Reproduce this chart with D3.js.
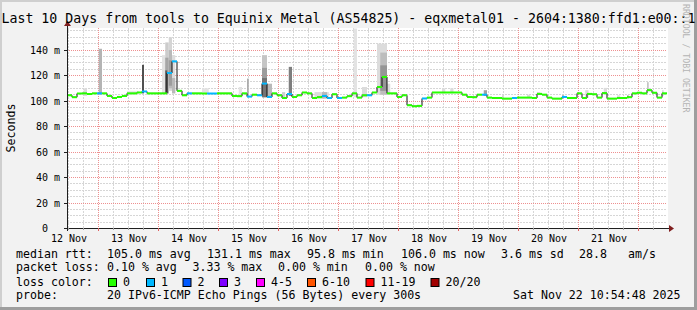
<!DOCTYPE html>
<html>
<head>
<meta charset="utf-8">
<script src="https://cdn.jsdelivr.net/npm/d3@7"></script>
<style>
  html, body { margin: 0; padding: 0; background: #f2f2f2; }
  svg { display: block; font-family: "DejaVu Sans Mono", monospace; }
  text { white-space: pre; }
</style>
</head>
<body>
<svg id="chart" width="697" height="310"></svg>
<script>
// ---- data ----
const startTime = Date.UTC(2025, 10, 12, 11, 24);
const stepHours = 2;

// median rtt (ms), one value per 2 hours
const medianMs = [
  104.5, 103, 105.9, 106, 105.5, 106, 106, 106, 104, 102.4,
  103.2, 104, 106, 106, 106.7, 107.5, 106, 106, 106, 106,
  122, 131.1, 108, 104.5, 106, 106, 106, 105.9, 105.9, 105.9,
  106, 106, 106, 104, 103.8, 106, 103.5, 105, 104.5, 113.7,
  103.2, 106, 104.5, 102.4, 105.5, 103.2, 104.5, 106.7, 106, 102.4,
  103, 104, 102.4, 105.3, 102.4, 102.7, 103.8, 106, 102.7, 104.5,
  104.5, 106.7, 111, 118.9, 106, 106, 103.2, 104.5, 96.7, 95.9,
  96.2, 102, 102.7, 106.7, 106.7, 106.7, 106.7, 106.7, 106.7, 105,
  103.2, 103, 105, 105, 102.7, 102.4, 102.4, 101.9, 101.9, 102.4,
  102.7, 102.7, 102.7, 102.4, 105.6, 105, 102.7, 101.9, 101.9, 103.2,
  102.4, 102.4, 106, 102.4, 105.6, 105.3, 102.7, 106.2, 101.9, 101.9,
  102.4, 102.4, 103, 106, 106.5, 106, 108.5, 106.5, 102.7, 106
];

// lost pings (of 20) per step
const lossCount = [
  0, 0, 0, 0, 0, 0, 1, 0, 0, 0, 0, 0, 0, 0, 0, 1, 0, 0, 0, 0,
  1, 1, 0, 0, 1, 0, 0, 0, 1, 1, 0, 0, 0, 0, 0, 0, 1, 0, 1, 1,
  1, 0, 0, 0, 1, 0, 0, 0, 0, 0, 0, 1, 1, 0, 1, 0, 0, 0, 0, 0,
  1, 0, 0, 0, 0, 0, 0, 0, 0, 0, 0, 1, 0, 0, 0, 0, 0, 0, 0, 0,
  0, 0, 0, 1, 0, 0, 0, 0, 0, 1, 0, 0, 0, 0, 0, 0, 0, 0, 0, 1,
  0, 0, 0, 0, 0, 0, 0, 0, 0, 0, 0, 0, 0, 0, 0, 0, 0, 0, 0, 0
];

// smoke (ping spread): start hour, length in hours, low ms, high ms, density
const smokeHour    = [6.7, 12.7, 24, 30, 38, 39.3, 39.3, 39.3, 40.7, 40.7, 40.7, 42, 42, 54, 68.7, 72, 78, 78, 78, 80, 86, 88.7, 99, 102, 114.7, 118, 124, 125.3, 125.3, 128, 150, 153.3, 166.7, 174, 184, 188, 198, 207.3, 214.7, 220, 224, 232, 238];
const smokeSpan    = [1.3, 1.3, 4.7, 0.8, 1.3, 1.4, 1.4, 0.8, 1.3, 1.3, 1.3, 1.3, 1.3, 2.7, 1.3, 0.7, 2, 2, 2, 2, 1.3, 1.3, 5.7, 2, 1.3, 2, 4, 2.7, 2.7, 1.3, 1.3, 1.3, 1.3, 0.7, 1.3, 1.3, 0.7, 1.3, 1.3, 1.3, 0.7, 0.7, 0.7];
const smokeLow     = [104, 105, 105, 106, 106, 106, 106, 106, 108, 110, 112, 106, 106, 105.5, 104, 104, 103, 103, 103, 103, 102, 104, 102, 102, 103, 103, 105, 105, 108, 105, 106, 106, 104, 101.5, 102.5, 105, 102, 102.4, 105, 101.5, 102, 108, 104];
const smokeHigh    = [110, 141, 108, 128.4, 136, 146, 134, 124, 150, 140, 132, 136, 118, 110, 111, 117.6, 136, 126, 118, 113.6, 107, 126.8, 107, 107, 157, 111, 145, 138, 128, 113.6, 110, 110, 108.5, 104.5, 105, 107, 104.5, 108.5, 110.3, 104.5, 104.5, 114.8, 108.5];
const smokeDensity = [0.15, 0.32, 0.1, 0.75, 0.12, 0.22, 0.38, 0.7, 0.18, 0.3, 0.42, 0.15, 0.3, 0.12, 0.12, 0.35, 0.25, 0.42, 0.6, 0.3, 0.2, 0.55, 0.15, 0.3, 0.12, 0.15, 0.15, 0.28, 0.45, 0.15, 0.15, 0.15, 0.4, 0.2, 0.15, 0.15, 0.4, 0.15, 0.15, 0.15, 0.35, 0.25, 0.15];

const lossLabels = ["0", "1", "2", "3", "4-5", "6-10", "11-19", "20/20"];
const lossColors = ["#26ff00", "#00b8ff", "#0059ff", "#7e00ff", "#ff00ff", "#ff5500", "#ff0000", "#a10000"];
const lossLimits = [0, 1, 2, 3, 5, 10, 19, 20];

const titleText = "Last 10 Days from tools to Equinix Metal (AS54825) - eqxmetal01 - 2604:1380:ffd1:e00::1";
const rttStats = ["105.0 ms avg", "131.1 ms max", "95.8 ms min", "106.0 ms now", "3.6 ms sd", "28.8", "am/s"];
const lossStats = ["0.10 % avg", "3.33 % max", "0.00 % min", "0.00 % now"];
const probeText = "20 IPv6-ICMP Echo Pings (56 Bytes) every 300s";
const stampText = "Sat Nov 22 10:54:48 2025";

// ---- layout ----
const W = 697, H = 310;
const plotLeft = 67, plotRight = 667, plotTop = 28, plotBottom = 228;
const rttCols = [107, 207, 307, 401, 501, 579, 628];
const lossCols = [107, 192.5, 278, 365];
const boxCols = [108, 146, 182.5, 219, 256, 307, 365.5, 430.5];

const svg = d3.select("#chart");

const endTime = startTime + 10 * 864e5;
const x = d3.scaleUtc().domain([startTime, endTime]).range([plotLeft, plotRight]);
const y = d3.scaleLinear().domain([0, 156.9]).range([plotBottom + 0.5, plotTop + 0.5]);

const hourTime = (h) => startTime + h * 36e5;
const lossColour = (n) => lossColors[lossLimits.findIndex((l) => n <= l)];
const smokeColour = d3.scaleLinear().domain([0, 1]).range(["#ffffff", "#151515"]);

// background, shading, canvas
svg.append("rect").attr("width", W).attr("height", H).attr("fill", "#f2f2f2");
svg.append("rect").attr("width", W).attr("height", 2).attr("fill", "#cfcfcf");
svg.append("rect").attr("width", 2).attr("height", H).attr("fill", "#cfcfcf");
svg.append("rect").attr("y", H - 3).attr("width", W).attr("height", 3).attr("fill", "#9e9e9e");
svg.append("rect").attr("x", W - 3).attr("width", 3).attr("height", H).attr("fill", "#9e9e9e");
svg.append("rect")
  .attr("x", plotLeft)
  .attr("y", plotTop)
  .attr("width", plotRight - plotLeft + 1)
  .attr("height", plotBottom - plotTop)
  .attr("fill", "#fff");

// grid
const crisp = (v) => Math.round(v - 0.5) + 0.5;

const minorY = d3.range(5, 157, 5).filter((v) => v % 20 !== 0);
const majorY = d3.range(20, 157, 20);
const minorX = d3.utcHour.every(6).range(new Date(startTime), new Date(endTime))
  .filter((d) => d.getUTCHours() !== 0);
const majorX = d3.utcDay.range(new Date(startTime), new Date(endTime));
const dayLabels = d3.utcDay.range(d3.utcDay.floor(new Date(startTime)), new Date(endTime))
  .map((d) => new Date(+d + 12 * 36e5))
  .filter((d) => +d > startTime && +d < endTime);

function gridLines(cls, values, horizontal, colour, dash) {
  svg.append("g")
    .attr("class", cls)
    .selectAll("line")
    .data(values)
    .enter()
    .append("line")
    .attr("x1", (d) => (horizontal ? plotLeft : crisp(x(d))))
    .attr("x2", (d) => (horizontal ? plotRight : crisp(x(d))))
    .attr("y1", (d) => (horizontal ? crisp(y(d)) : plotTop))
    .attr("y2", (d) => (horizontal ? crisp(y(d)) : plotBottom))
    .style("stroke", colour)
    .style("stroke-width", "1px")
    .style("stroke-dasharray", dash);
}

gridLines("grid-minor-y", minorY, true, "#d6d6d6", "2 1");
gridLines("grid-minor-x", minorX, false, "#d6d6d6", "2 1");
gridLines("grid-major-y", majorY, true, "#ee9090", "1 1");
gridLines("grid-major-x", majorX, false, "#ee9090", "1 1");

// smoke
svg.append("g")
  .selectAll("rect")
  .data(smokeHour.map((h, i) => i))
  .enter()
  .append("rect")
  .attr("x", (i) => x(hourTime(smokeHour[i])))
  .attr("width", (i) => x(hourTime(smokeHour[i] + smokeSpan[i])) - x(hourTime(smokeHour[i])))
  .attr("y", (i) => y(Math.min(smokeHigh[i], 156.9)))
  .attr("height", (i) => y(smokeLow[i]) - y(Math.min(smokeHigh[i], 156.9)))
  .attr("fill", (i) => smokeColour(smokeDensity[i]));

// median line: dark step connectors, then loss coloured steps
const points = medianMs.map((v, i) => ({ t: hourTime(i * stepHours), v, loss: lossCount[i] }));
const stepLine = d3.line()
  .x((d) => x(d.t))
  .y((d) => y(d.v))
  .curve(d3.curveStepAfter);

svg.append("path")
  .datum(points.concat([{ t: hourTime(medianMs.length * stepHours), v: medianMs[medianMs.length - 1] }]))
  .attr("d", stepLine)
  .attr("fill", "none")
  .attr("stroke", "#111")
  .attr("stroke-width", 1);

svg.append("g")
  .selectAll("line")
  .data(points)
  .enter()
  .append("line")
  .attr("x1", (d) => x(d.t))
  .attr("x2", (d) => x(d.t + stepHours * 36e5))
  .attr("y1", (d) => y(d.v))
  .attr("y2", (d) => y(d.v))
  .attr("stroke", (d) => lossColour(d.loss))
  .attr("stroke-width", 2);

// axes
const axisColour = "#1f1f1f", arrowColour = "#801f1f";
const axes = svg.append("g").attr("stroke", axisColour).attr("stroke-width", 1);
axes.append("line").attr("x1", plotLeft - 3).attr("x2", plotRight + 3).attr("y1", plotBottom + 0.5).attr("y2", plotBottom + 0.5);
axes.append("line").attr("x1", plotLeft + 0.5).attr("x2", plotLeft + 0.5).attr("y1", plotBottom + 3).attr("y2", plotTop - 3);

axes.selectAll(".ty").data(majorY.concat([0])).enter().append("line")
  .attr("x1", plotLeft - 3).attr("x2", plotLeft)
  .attr("y1", (d) => crisp(y(d))).attr("y2", (d) => crisp(y(d)));
axes.selectAll(".tx").data(majorX).enter().append("line")
  .attr("x1", (d) => crisp(x(d))).attr("x2", (d) => crisp(x(d)))
  .attr("y1", plotBottom).attr("y2", plotBottom + 3)
  .attr("stroke", "#e06060");
axes.selectAll(".txm").data(minorX).enter().append("line")
  .attr("x1", (d) => crisp(x(d))).attr("x2", (d) => crisp(x(d)))
  .attr("y1", plotBottom).attr("y2", plotBottom + 2)
  .attr("stroke", "#a0a0a0");

svg.append("path")
  .attr("d", `M${plotRight + 2},${plotBottom - 3} L${plotRight + 7},${plotBottom + 0.5} L${plotRight + 2},${plotBottom + 4} Z`)
  .attr("fill", arrowColour);
svg.append("path")
  .attr("d", `M${plotLeft - 3},${plotTop - 2} L${plotLeft + 0.5},${plotTop - 7} L${plotLeft + 4},${plotTop - 2} Z`)
  .attr("fill", arrowColour);

// tick labels
svg.append("g")
  .attr("font-size", "10px")
  .attr("text-anchor", "end")
  .selectAll("text")
  .data([0].concat(majorY))
  .enter()
  .append("text")
  .attr("x", (d) => (d === 0 ? 48 : 60))
  .attr("y", (d) => crisp(y(d)) + 3.5)
  .text((d) => (d === 0 ? "0" : `${d} m`));

svg.append("g")
  .attr("font-size", "10px")
  .attr("text-anchor", "middle")
  .selectAll("text")
  .data(dayLabels)
  .enter()
  .append("text")
  .attr("x", (d) => x(d) + 0.5)
  .attr("y", 241.5)
  .text(d3.utcFormat("%d %b"));

// titles
svg.append("text")
  .attr("x", W / 2)
  .attr("y", 23.3)
  .attr("text-anchor", "middle")
  .attr("font-size", "13.25px")
  .text(titleText);

svg.append("text")
  .attr("transform", "translate(15,128) rotate(-90)")
  .attr("text-anchor", "middle")
  .attr("font-size", "11.6px")
  .text("Seconds");

svg.append("text")
  .attr("transform", "translate(683,4) rotate(90)")
  .attr("font-size", "8.2px")
  .attr("fill", "#b4b4b4")
  .text("RRDTOOL / TOBI OETIKER");

// legend
const legend = svg.append("g").attr("font-size", "11.6px");
const legendLine = (label, yPos) =>
  legend.append("text").attr("x", 16).attr("y", yPos).text(label);

legendLine("median rtt:", 258);
legend.selectAll(".rtt").data(rttStats).enter().append("text")
  .attr("x", (d, i) => rttCols[i]).attr("y", 258).text((d) => d);

legendLine("packet loss:", 271.3);
legend.selectAll(".pl").data(lossStats).enter().append("text")
  .attr("x", (d, i) => lossCols[i]).attr("y", 271.3).text((d) => d);

legendLine("loss color:", 286);
legend.selectAll(".box").data(lossLabels).enter().append("rect")
  .attr("x", (d, i) => boxCols[i] + 0.5).attr("y", 278.5)
  .attr("width", 8).attr("height", 8)
  .attr("fill", (d, i) => lossColors[i])
  .attr("stroke", "#000").attr("stroke-width", 1);
legend.selectAll(".lab").data(lossLabels).enter().append("text")
  .attr("x", (d, i) => boxCols[i] + 15).attr("y", 286).text((d) => d);

legendLine("probe:", 299);
legend.append("text").attr("x", 107).attr("y", 299).text(probeText);
legend.append("text").attr("x", 513).attr("y", 299).text(stampText);
</script>
</body>
</html>
